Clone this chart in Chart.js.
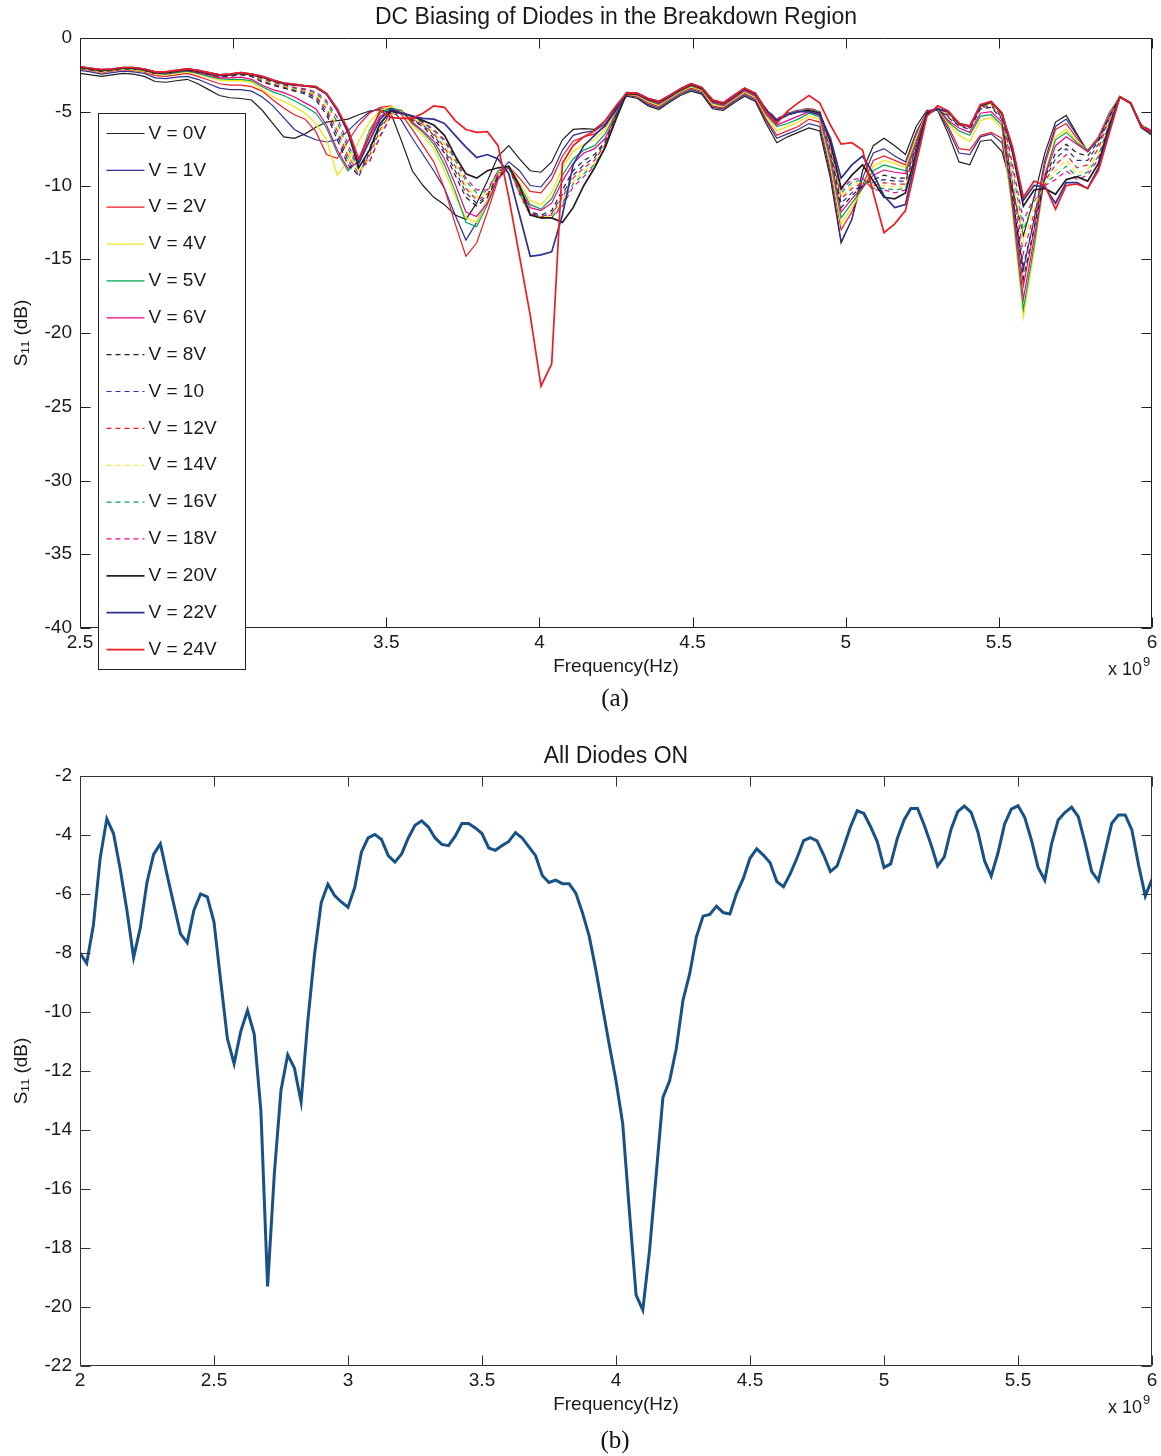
<!DOCTYPE html>
<html><head><meta charset="utf-8">
<script src="https://cdn.jsdelivr.net/npm/chart.js@4.4.1/dist/chart.umd.min.js"></script>
<style>
html,body{margin:0;padding:0;background:#fff;}
body{width:1161px;height:1456px;position:relative;overflow:hidden;}
.wrap{position:absolute;left:0;width:1161px;}
#w1{top:0;height:690px;}
#w2{top:730px;height:700px;}
.cap{position:absolute;left:0;width:1230px;text-align:center;font-family:'Liberation Serif','Times New Roman',serif;font-size:25px;line-height:30px;color:#111;}
</style></head>
<body>
<div class="wrap" id="w1"><canvas id="c1" width="1161" height="690" style="width:1161px;height:690px"></canvas></div>
<div class="cap" style="top:683px">(a)</div>
<div class="wrap" id="w2"><canvas id="c2" width="1161" height="700" style="width:1161px;height:700px"></canvas></div>
<div class="cap" style="top:1425px">(b)</div>
<script>
// ---------- DATA: chart (a) ----------
const freqA = [
2.5,2.535,2.57,2.605,2.64,2.675,2.71,2.745,2.78,2.815,
2.85,2.885,2.92,2.955,2.99,3.025,3.06,3.095,3.13,3.165,
3.2,3.235,3.27,3.305,3.34,3.375,3.41,3.445,3.48,3.515,
3.55,3.585,3.62,3.655,3.69,3.725,3.76,3.795,3.83,3.865,
3.9,3.935,3.97,4.005,4.04,4.075,4.11,4.145,4.18,4.215,
4.25,4.285,4.32,4.355,4.39,4.425,4.46,4.495,4.53,4.565,
4.6,4.635,4.67,4.705,4.74,4.775,4.81,4.845,4.88,4.915,
4.95,4.985,5.02,5.055,5.09,5.125,5.16,5.195,5.23,5.265,
5.3,5.335,5.37,5.405,5.44,5.475,5.51,5.545,5.58,5.615,
5.65,5.685,5.72,5.755,5.79,5.825,5.86,5.895,5.93,5.965,
6];

const v0 = [
-2.4,-2.5,-2.6,-2.5,-2.4,-2.45,-2.6,-2.95,-3.0,-2.9,
-2.8,-3.1,-3.5,-3.9,-4.05,-4.1,-4.2,-4.9,-5.8,-6.7,
-6.8,-6.5,-6.05,-5.7,-5.6,-5.5,-5.2,-4.95,-4.85,-5.1,
-7.0,-9.0,-10.0,-10.8,-11.3,-12.0,-12.3,-11.2,-9.7,-8.0,
-7.3,-8.2,-9.0,-9.1,-8.4,-6.9,-6.2,-6.15,-6.2,-5.6,
-4.7,-3.95,-4.1,-4.6,-4.85,-4.35,-3.9,-3.6,-3.8,-4.8,
-4.9,-4.4,-3.95,-4.3,-5.8,-7.1,-6.7,-6.4,-6.1,-6.3,
-9.5,-13.9,-12.3,-9.0,-7.3,-6.8,-7.3,-7.9,-6.0,-4.9,
-4.9,-6.5,-8.4,-8.6,-7.0,-6.9,-7.7,-10.3,-13.4,-10.8,
-7.8,-5.7,-5.25,-6.5,-7.7,-6.9,-5.2,-3.95,-4.4,-6.1,
-6.6];
const v1 = [
-2.2,-2.3,-2.45,-2.35,-2.25,-2.3,-2.4,-2.7,-2.75,-2.65,
-2.6,-2.8,-3.1,-3.4,-3.5,-3.5,-3.6,-4.0,-4.6,-5.4,
-6.2,-6.6,-6.9,-7.05,-6.9,-6.3,-5.6,-5.0,-4.8,-4.8,
-5.6,-6.8,-7.9,-9.0,-10.2,-12.0,-13.7,-12.5,-11.0,-9.2,
-8.4,-9.0,-10.0,-10.1,-9.2,-7.6,-6.6,-6.4,-6.3,-5.8,
-4.8,-3.9,-4.0,-4.5,-4.75,-4.25,-3.8,-3.5,-3.7,-4.7,
-4.8,-4.3,-3.85,-4.2,-5.6,-6.8,-6.5,-6.2,-5.8,-6.0,
-9.2,-13.8,-12.3,-9.5,-7.8,-7.5,-8.0,-8.4,-6.4,-5.0,
-4.85,-6.2,-7.8,-7.9,-6.7,-6.5,-7.1,-11.0,-15.7,-12.3,
-8.3,-6.0,-5.5,-6.6,-7.7,-6.8,-5.1,-4.0,-4.45,-6.05,
-6.5];
const v2 = [
-2.1,-2.2,-2.35,-2.25,-2.15,-2.2,-2.3,-2.55,-2.6,-2.5,
-2.4,-2.6,-2.85,-3.1,-3.2,-3.2,-3.3,-3.6,-4.2,-4.75,
-5.2,-5.5,-6.35,-7.9,-8.15,-7.0,-5.9,-5.1,-4.7,-4.6,
-5.2,-6.2,-7.3,-8.4,-10.2,-12.6,-14.8,-13.9,-11.8,-9.6,
-8.7,-9.5,-10.4,-10.5,-9.6,-8.0,-7.0,-6.7,-6.5,-6.0,
-4.9,-3.85,-3.95,-4.4,-4.65,-4.15,-3.7,-3.4,-3.6,-4.6,
-4.75,-4.2,-3.75,-4.1,-5.5,-6.6,-6.3,-6.0,-5.5,-5.7,
-8.9,-13.0,-11.8,-10.0,-8.3,-8.0,-8.3,-8.6,-6.6,-5.0,
-4.8,-6.0,-7.5,-7.6,-6.6,-6.4,-6.8,-11.2,-16.8,-13.0,
-8.6,-6.2,-5.8,-6.8,-7.6,-6.7,-5.1,-4.0,-4.4,-6.0,
-6.45];
const v4 = [
-2.05,-2.15,-2.3,-2.2,-2.1,-2.15,-2.25,-2.45,-2.5,-2.4,
-2.3,-2.45,-2.65,-2.85,-2.9,-2.9,-3.0,-3.5,-4.0,-4.3,
-4.65,-5.1,-5.8,-6.9,-9.3,-8.3,-7.0,-5.7,-4.9,-4.65,
-5.0,-5.9,-6.6,-7.5,-9.0,-10.7,-12.2,-12.5,-11.0,-9.3,
-8.7,-9.8,-11.0,-11.3,-10.5,-8.8,-7.7,-7.2,-6.9,-6.2,
-5.0,-3.8,-3.9,-4.3,-4.55,-4.1,-3.65,-3.3,-3.55,-4.5,
-4.65,-4.15,-3.65,-4.0,-5.3,-6.3,-6.0,-5.7,-5.3,-5.5,
-8.6,-12.6,-11.5,-10.2,-8.7,-8.3,-8.5,-8.8,-6.8,-5.0,
-4.8,-5.8,-6.6,-7.0,-5.6,-5.4,-6.1,-12.0,-18.9,-14.5,
-9.3,-6.7,-6.2,-7.0,-7.6,-6.8,-5.2,-4.0,-4.4,-6.0,
-6.4];
const v5 = [
-2.05,-2.1,-2.25,-2.15,-2.05,-2.1,-2.2,-2.4,-2.45,-2.35,
-2.25,-2.4,-2.6,-2.75,-2.8,-2.8,-2.9,-3.3,-3.65,-3.9,
-4.25,-4.65,-5.1,-6.1,-7.8,-9.0,-8.3,-6.25,-5.1,-4.75,
-4.9,-5.8,-6.4,-7.2,-8.6,-10.4,-12.5,-12.8,-11.3,-9.5,
-8.7,-10.0,-11.3,-11.6,-10.9,-9.3,-8.2,-7.6,-7.3,-6.5,
-5.1,-3.8,-3.85,-4.25,-4.5,-4.05,-3.6,-3.25,-3.5,-4.4,
-4.6,-4.1,-3.6,-3.95,-5.2,-6.0,-5.8,-5.5,-5.1,-5.35,
-8.3,-12.2,-11.2,-10.2,-9.0,-8.6,-8.8,-9.0,-7.0,-5.0,
-4.8,-5.7,-6.3,-6.6,-5.3,-5.2,-5.9,-11.6,-18.4,-14.1,
-9.3,-6.9,-6.4,-7.1,-7.6,-6.8,-5.2,-4.0,-4.4,-6.0,
-6.4];
const v6 = [
-2.0,-2.1,-2.2,-2.15,-2.05,-2.05,-2.15,-2.4,-2.4,-2.3,
-2.2,-2.35,-2.5,-2.7,-2.7,-2.65,-2.8,-3.2,-3.5,-3.7,
-4.0,-4.4,-4.8,-5.9,-7.6,-8.85,-8.4,-6.7,-5.3,-4.9,
-4.95,-5.7,-6.3,-7.0,-8.2,-9.9,-11.8,-12.1,-11.2,-9.5,
-8.7,-10.2,-11.5,-11.7,-11.2,-9.7,-8.5,-7.8,-7.5,-6.8,
-5.2,-3.75,-3.85,-4.2,-4.45,-4.0,-3.55,-3.2,-3.45,-4.35,
-4.55,-4.05,-3.55,-3.9,-5.1,-5.9,-5.6,-5.3,-5.0,-5.25,
-8.0,-11.8,-10.9,-10.1,-9.3,-8.95,-9.1,-9.2,-7.2,-5.0,
-4.75,-5.6,-6.1,-6.4,-5.1,-5.0,-5.7,-11.2,-17.7,-13.6,
-9.4,-7.3,-6.7,-7.2,-7.7,-6.8,-5.3,-4.0,-4.4,-6.0,
-6.4];
const v8 = [
-2.05,-2.15,-2.25,-2.2,-2.1,-2.1,-2.2,-2.4,-2.4,-2.3,
-2.2,-2.3,-2.45,-2.6,-2.6,-2.5,-2.6,-3.0,-3.2,-3.4,
-3.6,-3.8,-4.2,-5.2,-6.9,-8.6,-9.3,-7.5,-5.8,-5.0,
-5.0,-5.6,-6.0,-6.8,-7.8,-9.3,-10.8,-11.4,-10.8,-9.4,
-8.8,-10.4,-11.8,-12.0,-11.7,-10.3,-9.0,-8.3,-7.9,-7.0,
-5.3,-3.72,-3.8,-4.15,-4.35,-3.95,-3.5,-3.15,-3.4,-4.25,
-4.45,-3.95,-3.45,-3.8,-4.95,-5.6,-5.2,-5.0,-4.85,-5.05,
-7.6,-11.5,-10.7,-10.0,-9.6,-9.3,-9.5,-9.5,-7.4,-5.1,
-4.8,-5.4,-5.95,-6.2,-4.8,-4.7,-5.5,-10.6,-16.3,-12.9,
-9.5,-7.8,-7.2,-7.8,-8.0,-7.0,-5.4,-4.0,-4.4,-5.9,
-6.35];
const v10 = [
-2.05,-2.15,-2.25,-2.2,-2.1,-2.1,-2.2,-2.4,-2.4,-2.3,
-2.2,-2.3,-2.45,-2.6,-2.55,-2.45,-2.55,-2.95,-3.15,-3.35,
-3.55,-3.7,-4.05,-5.0,-6.6,-8.3,-9.4,-7.8,-6.0,-5.1,
-5.0,-5.55,-5.9,-6.6,-7.6,-9.0,-10.5,-11.2,-10.7,-9.3,
-8.8,-10.5,-11.9,-12.1,-11.9,-10.6,-9.3,-8.6,-8.1,-7.1,
-5.35,-3.72,-3.78,-4.12,-4.32,-3.92,-3.48,-3.13,-3.38,-4.22,
-4.42,-3.92,-3.43,-3.78,-4.9,-5.6,-5.2,-5.0,-4.85,-5.05,
-7.5,-11.2,-10.5,-9.9,-9.8,-9.6,-9.7,-9.7,-7.5,-5.1,
-4.8,-5.3,-5.9,-6.1,-4.75,-4.6,-5.4,-10.2,-15.4,-12.4,
-9.6,-8.2,-7.5,-8.3,-8.3,-7.2,-5.5,-4.0,-4.4,-5.9,
-6.35];
const v12 = [
-2.0,-2.1,-2.2,-2.15,-2.05,-2.05,-2.15,-2.35,-2.35,-2.25,
-2.15,-2.25,-2.4,-2.55,-2.5,-2.4,-2.5,-2.9,-3.1,-3.3,
-3.5,-3.6,-3.95,-4.8,-6.3,-8.0,-9.2,-8.0,-6.2,-5.1,
-5.0,-5.5,-5.85,-6.5,-7.4,-8.7,-10.2,-11.0,-10.6,-9.2,
-8.75,-10.6,-12.0,-12.1,-12.0,-10.8,-9.5,-8.8,-8.3,-7.2,
-5.4,-3.7,-3.77,-4.1,-4.3,-3.9,-3.47,-3.12,-3.37,-4.2,
-4.4,-3.9,-3.42,-3.77,-4.9,-5.55,-5.15,-4.95,-4.8,-5.0,
-7.4,-10.9,-10.2,-9.8,-10.0,-9.8,-9.9,-9.9,-7.6,-5.1,
-4.8,-5.2,-5.85,-6.05,-4.7,-4.5,-5.3,-9.8,-14.6,-11.9,
-9.7,-8.6,-7.9,-8.8,-8.6,-7.5,-5.6,-4.0,-4.4,-5.9,
-6.3];
const v14 = [
-2.0,-2.1,-2.2,-2.15,-2.05,-2.05,-2.15,-2.35,-2.35,-2.25,
-2.15,-2.25,-2.4,-2.55,-2.5,-2.4,-2.5,-2.85,-3.05,-3.25,
-3.45,-3.55,-3.85,-4.6,-6.0,-7.8,-9.1,-8.2,-6.4,-5.2,
-5.0,-5.45,-5.8,-6.4,-7.2,-8.5,-10.0,-10.8,-10.5,-9.1,
-8.75,-10.6,-12.0,-12.15,-12.1,-11.0,-9.7,-9.0,-8.5,-7.3,
-5.45,-3.7,-3.76,-4.1,-4.3,-3.9,-3.46,-3.11,-3.36,-4.2,
-4.4,-3.9,-3.41,-3.76,-4.85,-5.5,-5.1,-4.95,-4.8,-5.0,
-7.3,-10.7,-10.0,-9.7,-10.1,-10.0,-10.1,-10.1,-7.7,-5.1,
-4.8,-5.15,-5.8,-6.0,-4.65,-4.45,-5.25,-9.4,-13.8,-11.5,
-9.8,-9.0,-8.3,-9.2,-8.9,-7.8,-5.7,-4.0,-4.4,-5.9,
-6.3];
const v16 = [
-2.0,-2.1,-2.2,-2.15,-2.05,-2.05,-2.15,-2.35,-2.35,-2.25,
-2.15,-2.25,-2.4,-2.55,-2.5,-2.4,-2.5,-2.8,-3.0,-3.2,
-3.4,-3.5,-3.75,-4.4,-5.7,-7.5,-8.9,-8.4,-6.6,-5.3,
-5.0,-5.4,-5.75,-6.3,-7.0,-8.3,-9.7,-10.5,-10.4,-9.0,
-8.7,-10.5,-12.0,-12.2,-12.2,-11.2,-9.9,-9.2,-8.6,-7.4,
-5.5,-3.7,-3.75,-4.1,-4.3,-3.9,-3.45,-3.1,-3.35,-4.2,
-4.4,-3.9,-3.4,-3.75,-4.85,-5.5,-5.1,-4.9,-4.8,-5.0,
-7.2,-10.5,-9.8,-9.6,-10.2,-10.2,-10.3,-10.2,-7.8,-5.1,
-4.8,-5.1,-5.8,-6.0,-4.6,-4.4,-5.2,-9.0,-13.0,-11.1,
-9.9,-9.3,-8.7,-9.4,-9.1,-8.0,-5.8,-4.0,-4.4,-5.9,
-6.3];
const v18 = [
-1.95,-2.05,-2.2,-2.1,-2.0,-2.0,-2.1,-2.3,-2.3,-2.2,
-2.1,-2.2,-2.35,-2.5,-2.45,-2.35,-2.45,-2.75,-2.95,-3.15,
-3.35,-3.45,-3.65,-4.25,-5.4,-7.2,-8.8,-8.4,-6.7,-5.3,
-5.0,-5.35,-5.7,-6.2,-6.9,-8.1,-9.5,-10.3,-10.3,-9.0,
-8.7,-10.4,-11.9,-12.2,-12.2,-11.4,-10.1,-9.4,-8.7,-7.4,
-5.5,-3.7,-3.75,-4.1,-4.3,-3.9,-3.45,-3.1,-3.35,-4.2,
-4.4,-3.9,-3.4,-3.75,-4.8,-5.5,-5.05,-4.9,-4.75,-4.95,
-7.1,-10.3,-9.6,-9.5,-10.3,-10.3,-10.5,-10.3,-7.9,-5.1,
-4.8,-5.05,-5.75,-5.95,-4.55,-4.35,-5.15,-8.6,-12.4,-10.8,
-10.0,-9.6,-9.0,-9.6,-9.3,-8.2,-5.9,-4.0,-4.4,-5.9,
-6.3];
const v20 = [
-2.0,-2.1,-2.2,-2.15,-2.05,-2.05,-2.15,-2.35,-2.35,-2.25,
-2.15,-2.25,-2.4,-2.55,-2.5,-2.4,-2.5,-2.65,-2.9,-3.1,
-3.2,-3.25,-3.35,-3.8,-4.9,-6.4,-8.8,-7.6,-5.8,-4.95,
-5.1,-5.3,-5.6,-5.9,-6.6,-8.0,-9.2,-9.5,-9.0,-8.8,
-8.7,-10.0,-12.0,-12.2,-12.2,-12.5,-11.5,-10.0,-8.8,-7.4,
-5.5,-3.75,-3.8,-4.15,-4.35,-3.95,-3.5,-3.15,-3.4,-4.25,
-4.45,-3.95,-3.45,-3.8,-4.9,-5.6,-5.2,-5.0,-4.9,-5.1,
-7.0,-10.2,-9.3,-8.6,-9.7,-10.8,-10.9,-10.5,-7.8,-5.1,
-4.8,-5.0,-5.8,-6.0,-4.6,-4.35,-5.1,-7.8,-11.4,-10.3,
-10.2,-10.6,-9.6,-9.4,-9.7,-8.5,-6.0,-4.0,-4.4,-6.0,
-6.4];
const v22 = [
-1.95,-2.05,-2.15,-2.1,-2.0,-2.0,-2.1,-2.3,-2.3,-2.2,
-2.1,-2.2,-2.35,-2.5,-2.45,-2.35,-2.45,-2.6,-2.85,-3.05,
-3.15,-3.25,-3.3,-3.8,-4.9,-6.3,-8.5,-7.0,-5.5,-4.8,
-5.1,-5.3,-5.45,-5.5,-5.8,-6.6,-7.4,-8.1,-7.9,-8.2,
-9.2,-12.0,-14.8,-14.7,-14.5,-12.0,-8.6,-7.3,-6.6,-5.9,
-4.9,-3.7,-3.75,-4.1,-4.3,-3.9,-3.45,-3.1,-3.35,-4.2,
-4.4,-3.9,-3.4,-3.75,-4.9,-5.6,-5.2,-5.0,-5.0,-5.2,
-6.8,-9.5,-8.6,-8.0,-9.2,-10.7,-11.5,-11.3,-8.0,-5.2,
-4.8,-5.0,-5.8,-6.0,-4.55,-4.3,-5.1,-7.6,-11.0,-10.0,
-10.1,-11.2,-9.8,-9.8,-10.2,-8.8,-6.2,-4.0,-4.4,-6.0,
-6.4];
const v24 = [
-1.95,-2.05,-2.15,-2.1,-2.0,-2.0,-2.1,-2.3,-2.3,-2.2,
-2.1,-2.2,-2.35,-2.5,-2.45,-2.35,-2.45,-2.6,-2.85,-3.05,
-3.15,-3.25,-3.3,-3.75,-4.8,-6.2,-8.2,-6.6,-4.9,-5.4,
-5.45,-5.45,-5.1,-4.6,-4.7,-5.6,-6.2,-6.4,-6.35,-7.3,
-10.8,-14.8,-18.8,-23.6,-22.1,-8.5,-7.3,-6.7,-6.3,-5.6,
-4.6,-3.7,-3.75,-4.1,-4.3,-3.9,-3.45,-3.1,-3.35,-4.2,
-4.4,-3.9,-3.4,-3.75,-5.0,-5.8,-4.95,-4.4,-3.9,-4.4,
-5.9,-7.2,-7.1,-7.6,-10.5,-13.2,-12.6,-11.7,-8.5,-5.3,
-4.6,-4.95,-5.8,-6.0,-4.5,-4.3,-5.1,-7.4,-10.8,-9.7,
-10.0,-11.6,-10.0,-9.9,-10.2,-9.0,-6.5,-4.0,-4.4,-6.0,
-6.4];

const voltLabels = ['V = 0V','V = 1V','V = 2V','V = 4V','V = 5V','V = 6V','V = 8V','V = 10','V = 12V','V = 14V','V = 16V','V = 18V','V = 20V','V = 22V','V = 24V'];
const voltSeries = [v0,v1,v2,v4,v5,v6,v8,v10,v12,v14,v16,v18,v20,v22,v24];
const yTicksA = [-40,-35,-30,-25,-20,-15,-10,-5,0];
const xTicksA = [2.5,3,3.5,4,4.5,5,5.5,6];

// ---------- DATA: chart (b) ----------
const freqB = [
2,2.025,2.05,2.075,2.1,2.125,2.15,2.175,2.2,2.225,
2.25,2.275,2.3,2.325,2.35,2.375,2.4,2.425,2.45,2.475,
2.5,2.525,2.55,2.575,2.6,2.625,2.65,2.675,2.7,2.725,
2.75,2.775,2.8,2.825,2.85,2.875,2.9,2.925,2.95,2.975,
3,3.025,3.05,3.075,3.1,3.125,3.15,3.175,3.2,3.225,
3.25,3.275,3.3,3.325,3.35,3.375,3.4,3.425,3.45,3.475,
3.5,3.525,3.55,3.575,3.6,3.625,3.65,3.675,3.7,3.725,
3.75,3.775,3.8,3.825,3.85,3.875,3.9,3.925,3.95,3.975,
4,4.025,4.05,4.075,4.1,4.125,4.15,4.175,4.2,4.225,
4.25,4.275,4.3,4.325,4.35,4.375,4.4,4.425,4.45,4.475,
4.5,4.525,4.55,4.575,4.6,4.625,4.65,4.675,4.7,4.725,
4.75,4.775,4.8,4.825,4.85,4.875,4.9,4.925,4.95,4.975,
5,5.025,5.05,5.075,5.1,5.125,5.15,5.175,5.2,5.225,
5.25,5.275,5.3,5.325,5.35,5.375,5.4,5.425,5.45,5.475,
5.5,5.525,5.55,5.575,5.6,5.625,5.65,5.675,5.7,5.725,
5.75,5.775,5.8,5.825,5.85,5.875,5.9,5.925,5.95,5.975,
6];
const allOn = [
-8.0,-8.35,-7.05,-4.8,-3.45,-3.95,-5.15,-6.55,-8.15,-7.15,
-5.6,-4.65,-4.3,-5.35,-6.35,-7.35,-7.65,-6.55,-6.0,-6.1,
-6.95,-8.95,-10.9,-11.75,-10.65,-9.95,-10.75,-13.35,-19.3,-15.5,
-12.65,-11.45,-11.9,-13.05,-10.3,-8.05,-6.3,-5.67,-6.05,-6.27,
-6.45,-5.78,-4.58,-4.1,-3.98,-4.15,-4.7,-4.92,-4.64,-4.1,
-3.67,-3.52,-3.73,-4.1,-4.32,-4.36,-4.04,-3.61,-3.61,-3.76,
-3.95,-4.44,-4.52,-4.36,-4.22,-3.92,-4.1,-4.4,-4.7,-5.37,
-5.61,-5.53,-5.65,-5.65,-5.97,-6.64,-7.43,-8.58,-9.85,-11.12,
-12.33,-13.78,-16.75,-19.6,-20.1,-18.1,-15.5,-12.9,-12.33,-11.24,
-9.6,-8.7,-7.45,-6.75,-6.69,-6.41,-6.63,-6.68,-5.98,-5.47,
-4.79,-4.47,-4.68,-4.94,-5.58,-5.75,-5.32,-4.79,-4.19,-4.09,
-4.2,-4.68,-5.24,-5.05,-4.4,-3.72,-3.18,-3.27,-3.72,-4.23,
-5.1,-4.98,-4.11,-3.49,-3.1,-3.1,-3.66,-4.31,-5.05,-4.74,
-3.81,-3.21,-3.02,-3.23,-3.89,-4.87,-5.39,-4.62,-3.63,-3.12,
-3.01,-3.4,-4.17,-5.1,-5.53,-4.31,-3.49,-3.24,-3.06,-3.38,
-4.26,-5.24,-5.55,-4.57,-3.6,-3.32,-3.32,-3.83,-5.02,-6.07,
-5.5];

// ---------- STYLES ----------
const FONT = "'Liberation Sans', Arial, Helvetica, sans-serif";
const TXT = '#1a1a1a';
const lineColors = ['#231f20','#2e3192','#ed1c24','#f2e422','#00a651','#ec008c',
                    '#231f20','#2e3192','#ed1c24','#f2e422','#00a651','#ec008c',
                    '#231f20','#2e3192','#ed1c24'];
const lineDash = [[],[],[],[],[],[],[5,4],[5,4],[5,4],[5,4],[5,4],[5,4],[],[],[]];
const lineWidth = [1.2,1.2,1.2,1.4,1.2,1.2,1.2,1.2,1.2,1.2,1.2,1.2,1.7,1.7,1.7];

// ---------- PLUGINS ----------
const axesBox = {
  id: 'axesBox',
  afterDraw(chart, args, o) {
    const {ctx, chartArea: a, scales: {x, y}} = chart;
    ctx.save();
    ctx.strokeStyle = o.color; ctx.lineWidth = 1;
    const L = Math.round(a.left) + 0.5, R = Math.round(a.right) - 0.5;
    const T = Math.round(a.top) + 0.5, B = Math.round(a.bottom) - 0.5;
    ctx.beginPath();
    ctx.rect(L, T, R - L, B - T);
    x.ticks.forEach(t => {
      const px = Math.round(x.getPixelForValue(t.value)) + 0.5;
      ctx.moveTo(px, B); ctx.lineTo(px, B - o.len);
      ctx.moveTo(px, T); ctx.lineTo(px, T + o.len);
    });
    y.ticks.forEach(t => {
      const py = Math.round(y.getPixelForValue(t.value)) + 0.5;
      ctx.moveTo(L, py); ctx.lineTo(L + o.len, py);
      ctx.moveTo(R, py); ctx.lineTo(R - o.len, py);
    });
    ctx.stroke();
    ctx.restore();
  }
};
const exponent = {
  id: 'exponent',
  afterDraw(chart, args, o) {
    const {ctx, chartArea: a} = chart;
    ctx.save();
    ctx.fillStyle = TXT;
    ctx.textBaseline = 'middle';
    ctx.textAlign = 'right';
    ctx.font = '18px ' + FONT;
    ctx.fillText('x 10', a.right - 10, a.bottom + o.dy);
    ctx.textAlign = 'left';
    ctx.font = '13px ' + FONT;
    ctx.fillText('9', a.right - 9, a.bottom + o.dy - 8);
    ctx.restore();
  }
};
const boxLegend = {
  id: 'boxLegend',
  afterDraw(chart, args, o) {
    if (!o.show) return;
    const {ctx, chartArea: a} = chart;
    const L = Math.round(a.left + o.dx) + 0.5, T = Math.round(a.top + o.dy) + 0.5;
    ctx.save();
    ctx.fillStyle = '#fff';
    ctx.fillRect(L, T, o.w, o.h);
    ctx.strokeStyle = '#222'; ctx.lineWidth = 1;
    ctx.strokeRect(L, T, o.w, o.h);
    chart.data.datasets.forEach((ds, i) => {
      const cy = T + o.first + i * o.gap;
      ctx.beginPath();
      ctx.setLineDash(ds.borderDash || []);
      ctx.strokeStyle = ds.borderColor;
      ctx.lineWidth = ds.borderWidth;
      ctx.moveTo(L + 8, cy); ctx.lineTo(L + 46, cy);
      ctx.stroke();
      ctx.setLineDash([]);
      ctx.fillStyle = TXT;
      ctx.font = '19px ' + FONT;
      ctx.textBaseline = 'middle';
      ctx.textAlign = 'left';
      ctx.fillText(ds.label, L + 50, cy);
    });
    ctx.restore();
  }
};

const fmtTick = v => String(Math.round(v * 100) / 100);

function axisCfg(min, max, step, titleText, isX, tickPad, titlePad, size) {
  return {
    type: 'linear', min, max,
    ticks: {stepSize: step, color: TXT, font: {size: 19, family: FONT}, padding: tickPad, maxRotation: 0, autoSkip: false, callback: fmtTick},
    grid: {display: false, drawTicks: false},
    border: {display: false},
    title: {display: true, text: titleText, color: TXT, font: {size: 19, family: FONT}, padding: titlePad},
    afterFit(s) { if (isX) s.height = size; else s.width = size; }
  };
}

// ---------- CHART (a) ----------
new Chart(document.getElementById('c1'), {
  type: 'line',
  data: {
    datasets: voltSeries.map((arr, k) => ({
      label: voltLabels[k],
      data: freqA.map((f, i) => ({x: f, y: arr[i]})),
      borderColor: lineColors[k],
      borderDash: lineDash[k],
      borderWidth: lineWidth[k],
      pointRadius: 0, fill: false, tension: 0,
      order: voltSeries.length - k
    }))
  },
  options: {
    responsive: false, animation: false, devicePixelRatio: 1,
    layout: {padding: {left: 0, right: 9, top: 0, bottom: 0}},
    scales: {
      x: axisCfg(xTicksA[0], xTicksA[xTicksA.length - 1], 0.5, 'Frequency(Hz)', true, 3, {top: 0, bottom: 11.6}, 62),
      y: axisCfg(yTicksA[0], yTicksA[yTicksA.length - 1], 5, 'S\u2081\u2081 (dB)', false, 8, {top: 10.6, bottom: 0}, 80)
    },
    plugins: {
      legend: {display: false},
      tooltip: {enabled: false},
      title: {display: true, fullSize: false, text: 'DC Biasing of Diodes in the Breakdown Region', color: TXT,
              font: {size: 23, weight: 'normal', family: FONT}, padding: {top: 4.2, bottom: 6.2}},
      axesBox: {color: '#222', len: 10},
      exponent: {dy: 42},
      boxLegend: {show: true, dx: 18, dy: 75, w: 147, h: 556, first: 20, gap: 36.86}
    }
  },
  plugins: [axesBox, exponent, boxLegend]
});

// ---------- CHART (b) ----------
new Chart(document.getElementById('c2'), {
  type: 'line',
  data: {
    datasets: [{
      label: 'All Diodes ON',
      data: freqB.map((f, i) => ({x: f, y: allOn[i]})),
      borderColor: '#185186', borderWidth: 3,
      pointRadius: 0, fill: false, tension: 0
    }]
  },
  options: {
    responsive: false, animation: false, devicePixelRatio: 1,
    layout: {padding: {left: 0, right: 9, top: 0, bottom: 0}},
    scales: {
      x: axisCfg(2, 6, 0.5, 'Frequency(Hz)', true, 3.6, {top: 0, bottom: 13.6}, 64),
      y: axisCfg(-22, -2, 2, 'S\u2081\u2081 (dB)', false, 8, {top: 10.6, bottom: 0}, 80)
    },
    plugins: {
      legend: {display: false},
      tooltip: {enabled: false},
      title: {display: true, fullSize: false, text: 'All Diodes ON', color: TXT,
              font: {size: 23, weight: 'normal', family: FONT}, padding: {top: 13.2, bottom: 5.2}},
      axesBox: {color: '#333', len: 10},
      exponent: {dy: 42},
      boxLegend: {show: false}
    }
  },
  plugins: [axesBox, exponent, boxLegend]
});
</script>
</body></html>
